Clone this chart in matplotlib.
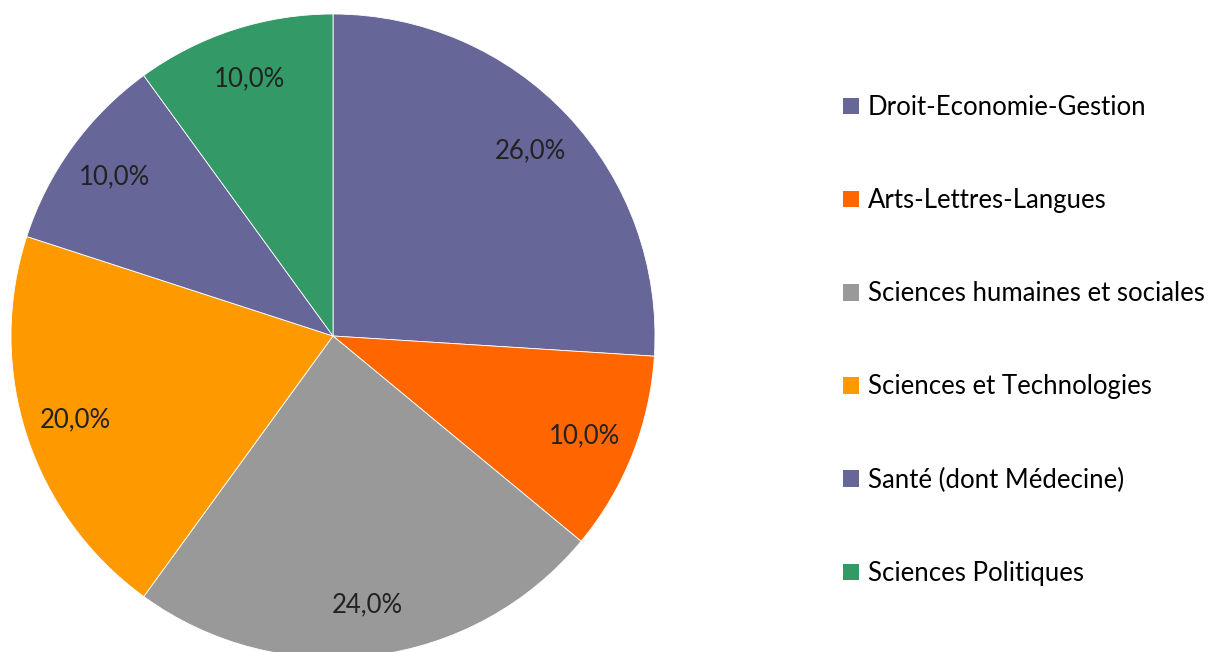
import matplotlib.pyplot as plt
from matplotlib.patches import Patch

categories = ["Droit-Economie-Gestion", "Arts-Lettres-Langues", "Sciences humaines et sociales",
              "Sciences et Technologies", "Santé (dont Médecine)", "Sciences Politiques"]
shares = [26.0, 10.0, 24.0, 20.0, 10.0, 10.0]
colors = ["#666699", "#FF6600", "#999999", "#FF9900", "#666699", "#339966"]

plt.rcParams['font.family'] = ['Lato', 'DejaVu Sans']

fig = plt.figure(figsize=(12.31, 6.52), dpi=100)
# pie box: x 11..655, y 14..658 px (slightly cut at the bottom)
ax = fig.add_axes([11 / 1231, -6 / 652, 644 / 1231, 644 / 652])

wedges, texts, autotexts = ax.pie(
    shares, colors=colors, startangle=90, counterclock=False,
    autopct=lambda p: f"{p:.1f}%".replace(".", ","), pctdistance=0.84,
    wedgeprops=dict(edgecolor="white", linewidth=0.6),
    textprops=dict(fontsize=18.5, color="#222222"))
ax.set_xlim(-1, 1)
ax.set_ylim(-1, 1)
ax.set_aspect("equal")
ax.axis("off")
for w in wedges:
    w.set_clip_on(False)

handles = [Patch(facecolor=c, edgecolor="none") for c in colors]
fig.legend(handles, categories, loc="center left", bbox_to_anchor=(833 / 1231, 1 - 340.5 / 652),
           frameon=False, fontsize=18.5, handlelength=0.6, handleheight=0.6, handletextpad=0.35,
           labelspacing=2.65, borderaxespad=0)

fig.savefig("out.png", dpi=100)
